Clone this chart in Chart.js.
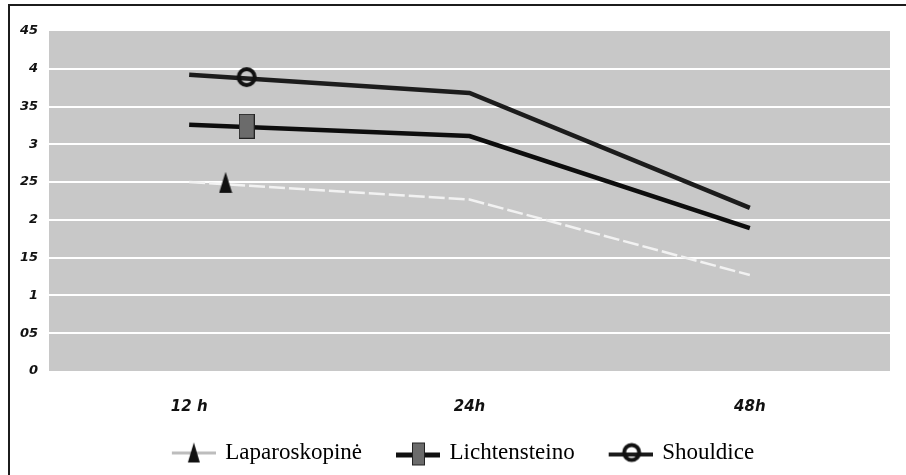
<!DOCTYPE html>
<html>
<head>
<meta charset="utf-8">
<script src="https://cdn.jsdelivr.net/npm/chart.js@4.4.1/dist/chart.umd.min.js"></script>
<style>
  body { margin: 0; background: #fff; }
  #wrap { position: relative; width: 906px; height: 475px; }
  #frame { position: absolute; left: 8px; top: 4px; right: 0; bottom: 0;
           border-top: 2px solid #1c1c1c; border-left: 2px solid #1c1c1c; pointer-events: none; }
</style>
</head>
<body>
<div id="wrap">
  <canvas id="lineChart" width="906" height="475"></canvas>
  <div id="frame"></div>
</div>
<script>
var categories = ['12 h', '24h', '48h'];
var yTickLabels = ['0', '05', '1', '15', '2', '25', '3', '35', '4', '45'];
var seriesNames = ['Laparoskopinė', 'Lichtensteino', 'Shouldice'];

var laparoskopine = [2.5, 2.27, 1.27];
var lichtensteino = [3.26, 3.11, 1.89];
var shouldice = [3.92, 3.68, 2.16];

// single marker per series, sits a bit right of the 12 h point
var markerX = [0.13, 0.205, 0.205];
var markerY = [2.49, 3.24, 3.89];

function mk(w, h, draw) {
    var c = document.createElement('canvas');
    c.width = w; c.height = h;
    draw(c.getContext('2d'));
    return c;
}

var triangleImg = mk(14, 22, function (g) {
    g.fillStyle = '#111';
    g.beginPath(); g.moveTo(7, 0); g.lineTo(13.5, 21); g.lineTo(0.5, 21); g.closePath(); g.fill();
});
var rectImg = mk(16, 25, function (g) {
    g.fillStyle = '#6b6b6b'; g.fillRect(0.5, 0.5, 15, 24);
    g.strokeStyle = '#222'; g.lineWidth = 1; g.strokeRect(0.5, 0.5, 15, 24);
});
var ringImg = mk(24, 24, function (g) {
    g.strokeStyle = '#111'; g.lineWidth = 4;
    g.beginPath(); g.arc(12, 12, 8, 0, Math.PI * 2); g.stroke();
});

// legend icons: blank left part then line + marker
var legendIcons = [
    mk(62, 30, function (g) {
        g.fillStyle = '#bdbdbd'; g.fillRect(18, 14, 44, 3);
        g.fillStyle = '#111';
        g.beginPath(); g.moveTo(40, 5); g.lineTo(46, 25); g.lineTo(34, 25); g.closePath(); g.fill();
    }),
    mk(62, 30, function (g) {
        g.fillStyle = '#111'; g.fillRect(18, 15, 44, 5);
        g.fillStyle = '#6b6b6b'; g.fillRect(34, 5, 13, 23);
        g.strokeStyle = '#222'; g.lineWidth = 1; g.strokeRect(34.5, 5.5, 12, 22);
    }),
    mk(62, 30, function (g) {
        g.fillStyle = '#1a1a1a'; g.fillRect(18, 15, 44, 4);
        g.strokeStyle = '#111'; g.lineWidth = 4;
        g.beginPath(); g.arc(41, 15, 7.5, 0, Math.PI * 2); g.stroke();
    })
];

function pts(arr) {
    return arr.map(function (v, i) { return {x: i, y: v}; });
}

var plotBg = {
    id: 'plotBg',
    beforeDraw: function (chart) {
        var a = chart.chartArea, ctx = chart.ctx;
        ctx.save();
        ctx.fillStyle = '#c8c8c8';
        ctx.fillRect(a.left, a.top, a.right - a.left, a.bottom - a.top);
        ctx.restore();
    }
};

// legend in the original sits a little right of centre
var legendNudge = {
    id: 'legendNudge',
    afterLayout: function (chart) {
        chart.legend.left += 10;
        chart.legend.right += 10;
    }
};

var lineData = {
    datasets: [
        {label: seriesNames[0], data: pts(laparoskopine), borderColor: '#f2f2f2', borderWidth: 2.5,
         borderDash: [16, 4], pointRadius: 0, order: 3},
        {label: seriesNames[1], data: pts(lichtensteino), borderColor: '#0d0d0d', borderWidth: 4.5,
         pointRadius: 0, order: 2},
        {label: seriesNames[2], data: pts(shouldice), borderColor: '#1c1c1c', borderWidth: 4.5,
         pointRadius: 0, order: 1},
        {label: 'm0', data: [{x: markerX[0], y: markerY[0]}], showLine: false, pointStyle: triangleImg, pointRadius: 10, order: 0},
        {label: 'm1', data: [{x: markerX[1], y: markerY[1]}], showLine: false, pointStyle: rectImg, pointRadius: 10, order: 0},
        {label: 'm2', data: [{x: markerX[2], y: markerY[2]}], showLine: false, pointStyle: ringImg, pointRadius: 10, order: 0}
    ]
};

var lineOptions = {
    responsive: false,
    animation: false,
    layout: { padding: { left: 0, top: 31, right: 16, bottom: 1 } },
    plugins: {
        tooltip: { enabled: false },
        legend: {
            display: true,
            position: 'bottom',
            labels: {
                usePointStyle: true,
                pointStyleWidth: 58,
                padding: 18,
                color: '#111',
                font: { family: '"Liberation Serif", "DejaVu Serif", serif', size: 23 },
                generateLabels: function () {
                    return seriesNames.map(function (n, i) {
                        return {text: n, pointStyle: legendIcons[i], fillStyle: 'transparent',
                                strokeStyle: 'transparent', lineWidth: 0, hidden: false, datasetIndex: i};
                    });
                }
            }
        }
    },
    scales: {
        x: {
            type: 'linear',
            min: -0.5,
            max: 2.5,
            afterBuildTicks: function (s) { s.ticks = categories.map(function (c, i) { return {value: i}; }); },
            afterFit: function (s) { s.height = 52; },
            grid: { display: false },
            border: { display: false },
            ticks: {
                padding: 19,
                color: '#111',
                font: { family: '"DejaVu Sans", sans-serif', size: 15, weight: 'bold', style: 'italic' },
                callback: function (v) { return categories[v]; }
            }
        },
        y: {
            min: 0,
            max: 4.5,
            afterFit: function (s) { s.width = 49; },
            border: { display: false },
            grid: {
                drawTicks: false,
                lineWidth: 2,
                color: function (c) {
                    return (c.index === 0 || c.index === yTickLabels.length - 1) ? 'rgba(0,0,0,0)' : '#ffffff';
                }
            },
            ticks: {
                stepSize: 0.5,
                padding: 11,
                color: '#111',
                font: { family: '"DejaVu Sans", sans-serif', size: 13, weight: 'bold', style: 'italic' },
                callback: function (v, i) { return yTickLabels[i]; }
            }
        }
    }
};

var linecfg = {
    type: 'line',
    data: lineData,
    options: lineOptions,
    plugins: [plotBg, legendNudge]
};

var ctx = document.getElementById('lineChart').getContext('2d');
var myline = new Chart(ctx, linecfg);
</script>
</body>
</html>
